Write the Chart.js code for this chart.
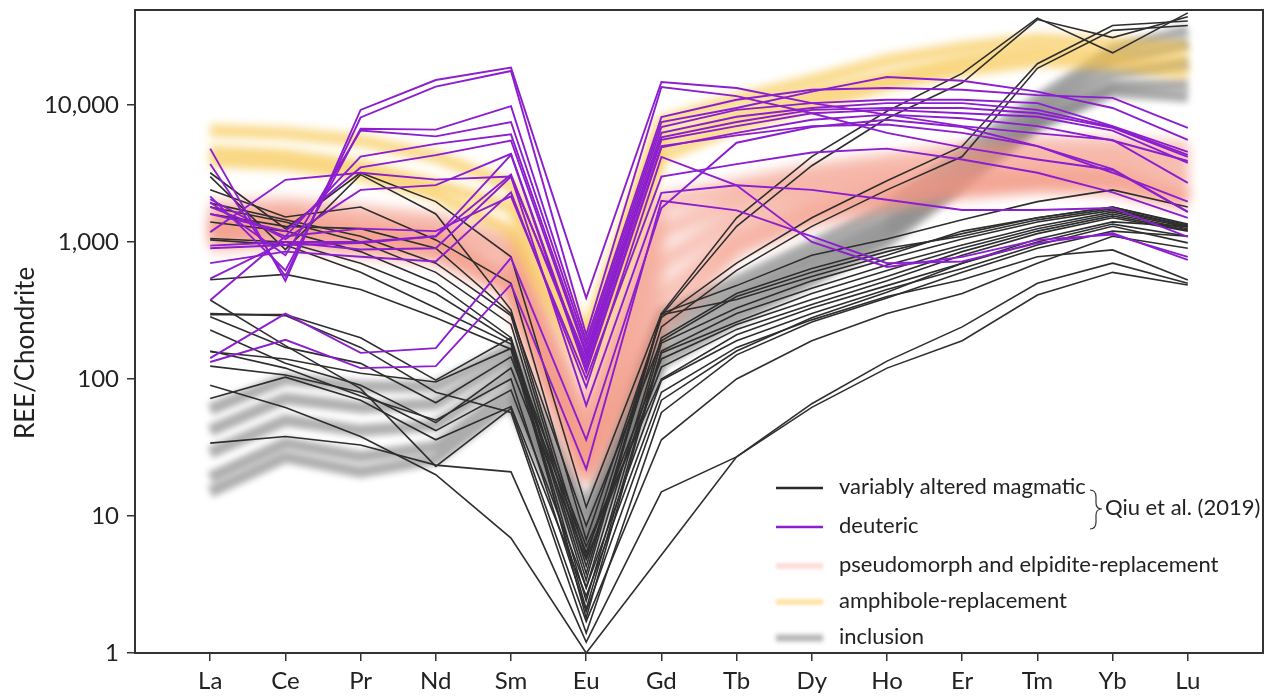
<!DOCTYPE html>
<html>
<head>
<meta charset="utf-8">
<script src="https://cdn.jsdelivr.net/npm/chart.js@4.4.0/dist/chart.umd.min.js"></script>
<style>
  html, body { margin: 0; background: #fff; }
</style>
</head>
<body>
<canvas id="ree-chart" width="1273" height="700"></canvas>
<script>
const elements = ['La', 'Ce', 'Pr', 'Nd', 'Sm', 'Eu', 'Gd', 'Tb', 'Dy', 'Ho', 'Er', 'Tm', 'Yb', 'Lu'];
const yTicks = [1, 10, 100, 1000, 10000];
const legendLabels = ['variably altered magmatic', 'deuteric', 'pseudomorph and elpidite-replacement', 'amphibole-replacement', 'inclusion'];
const sourceNote = 'Qiu et al. (2019)';

// variably altered magmatic (black)
const magmatic = [
  [3200, 1250, 3200, 1970, 780, 11.6, 300, 1500, 4200, 9000, 17000, 43000, 24000, 47000],
  [3000, 880, 3100, 1600, 320, 5.0, 290, 1300, 3600, 8000, 14500, 42000, 31000, 44000],
  [2400, 1520, 1800, 1035, 500, 6.7, 280, 700, 1500, 2800, 5000, 20000, 38000, 41000],
  [1920, 1450, 1100, 700, 290, 4.3, 240, 620, 1300, 2400, 4200, 18500, 35000, 38000],
  [1800, 1400, 1000, 600, 250, 3.8, 300, 480, 800, 1050, 1450, 1970, 2400, 1800],
  [1400, 1200, 850, 500, 200, 3.4, 295, 380, 560, 800, 1200, 1500, 1800, 1330],
  [1060, 1000, 700, 420, 190, 3.0, 200, 420, 640, 900, 1100, 1450, 1750, 1300],
  [1035, 950, 600, 330, 180, 2.4, 183, 330, 520, 750, 1050, 1400, 1700, 1300],
  [530, 580, 450, 280, 165, 2.1, 160, 300, 460, 680, 950, 1300, 1650, 1280],
  [295, 295, 200, 98, 200, 1.8, 155, 260, 420, 620, 900, 1250, 1600, 1250],
  [285, 170, 130, 67, 145, 5.4, 140, 250, 380, 560, 850, 1200, 1550, 1220],
  [228, 130, 90, 48, 120, 4.8, 122, 230, 350, 520, 800, 1150, 1500, 1200],
  [158, 140, 110, 95, 167, 6.0, 100, 210, 330, 480, 700, 1000, 1350, 1100],
  [124, 107, 80, 42, 83, 3.0, 98, 190, 300, 450, 640, 950, 1300, 985],
  [72, 103, 70, 36, 63, 2.6, 80, 170, 270, 400, 530, 780, 875, 528],
  [34, 38, 33, 23.5, 21, 1.2, 15, 27, 62, 120, 190, 410, 600, 485],
  [90, 62, 38, 20, 6.9, 1.0, 5.2, 27, 66, 135, 240, 500, 700, 500],
  [377, 175, 85, 23, 61, 1.7, 36, 100, 190, 300, 420, 700, 1100, 900],
  [300, 290, 170, 80, 57, 1.4, 57, 150, 260, 390, 600, 900, 1200, 1100],
  [160, 120, 75, 50, 100, 2.0, 70, 160, 280, 430, 700, 1050, 1400, 1300],
  [1600, 1300, 1250, 900, 300, 8.5, 190, 400, 600, 850, 1150, 1500, 1800, 1350]
];

// deuteric (purple)
const deuteric = [
  [4800, 520, 9200, 15200, 18700, 390, 14700, 13300, 10300, 8500, 7000, 6200, 5560, 2700],
  [3700, 560, 8100, 13600, 17700, 210, 13500, 11600, 8700, 6250, 4900, 4000, 3350, 1656],
  [2150, 620, 6700, 6600, 9800, 190, 8170, 10900, 12900, 13300, 12900, 11800, 11250, 6800],
  [1950, 800, 6500, 5900, 7500, 175, 7500, 9500, 12500, 16000, 15000, 12500, 9500, 5560],
  [1800, 1100, 4200, 5200, 6100, 160, 6900, 9200, 10300, 10900, 10900, 10300, 7000, 4540],
  [1600, 1200, 3500, 4300, 5500, 150, 6250, 8200, 9500, 10300, 10300, 9200, 6900, 4320],
  [1180, 2840, 3200, 2850, 3000, 140, 5800, 7500, 9200, 9500, 9500, 8700, 6800, 4170],
  [940, 1000, 1000, 1100, 3100, 130, 5560, 7000, 8700, 9200, 8700, 8200, 6500, 3780],
  [900, 950, 980, 1100, 4330, 112, 4900, 6250, 7800, 8500, 8000, 7000, 5500, 3900],
  [700, 850, 780, 720, 2300, 87, 4170, 2590, 1000, 657, 778, 1035, 1130, 778],
  [540, 1000, 880, 900, 3000, 64, 2280, 2590, 2400, 2030, 1710, 1710, 1770, 1087],
  [142, 300, 155, 168, 765, 36, 1770, 5300, 6900, 7800, 6900, 5000, 3200, 1970],
  [133, 193, 120, 124, 490, 22, 2000, 1700, 1100, 700, 720, 980, 1160, 739],
  [375, 1100, 1250, 1200, 2150, 100, 3000, 3700, 4500, 4800, 4000, 3200, 2300, 1497],
  [2050, 1050, 2400, 2600, 4400, 120, 5000, 6000, 7000, 7200, 6250, 5000, 3400, 1656]
];

// pseudomorph and elpidite-replacement (pink band)
const pseudomorph = [
  [1700, 1800, 1600, 1400, 1000, 50, 1900, 2500, 3200, 3800, 4500, 5000, 5000, 4600],
  [1400, 1500, 1300, 1150, 800, 35, 1200, 2000, 2600, 3100, 3600, 4000, 4000, 3600],
  [1150, 1250, 1050, 950, 600, 25, 700, 1500, 2100, 2600, 3000, 3300, 3300, 2800],
  [1000, 1050, 900, 800, 450, 20, 400, 1100, 1700, 2200, 2600, 2800, 2800, 2200],
  [1250, 1350, 1150, 1000, 500, 22, 250, 900, 1500, 2000, 2400, 2700, 2600, 2000]
];

// amphibole-replacement (yellow band)
const amphibole = [
  [6500, 6200, 5500, 4200, 2600, 200, 7500, 11000, 15000, 21000, 26000, 30000, 28000, 26000],
  [4600, 4300, 3600, 2600, 1800, 150, 5500, 8500, 12000, 16000, 21000, 25000, 23000, 21000],
  [3900, 3700, 3100, 2200, 1200, 110, 4200, 7000, 10000, 14000, 18000, 21000, 20000, 17000]
];

// inclusion (grey band)
const inclusion = [
  [60, 100, 88, 88, 170, 11, 300, 520, 950, 1800, 4500, 11000, 25000, 35000],
  [42, 72, 62, 66, 140, 8, 250, 440, 800, 1500, 3800, 9500, 21000, 28000],
  [29, 50, 42, 46, 110, 6.5, 200, 380, 700, 1300, 3300, 8500, 17000, 20000],
  [19, 34, 27, 32, 85, 5.5, 160, 320, 600, 1150, 2900, 7500, 14000, 14000],
  [15, 27, 21, 26, 68, 5, 130, 270, 520, 1000, 2600, 7000, 12500, 11500]
];

const FONT = 'Lato, "Open Sans", sans-serif';
const TEXT = '#222';

function series(rows, style) {
  return rows.map(r => Object.assign({}, style, {
    data: r.map((v, i) => ({ x: i, y: v }))
  }));
}

const datasets = [].concat(
  series(inclusion, { borderColor: 'rgba(110,110,110,0.55)', borderWidth: 12, blur: 3, order: 4, borderJoinStyle: 'round' }),
  series(pseudomorph, { borderColor: 'rgba(242,150,130,0.55)', borderWidth: 20, blur: 6, order: 3, borderJoinStyle: 'round' }),
  series(amphibole, { borderColor: 'rgba(247,196,70,0.62)', borderWidth: 13, blur: 4, order: 2, borderJoinStyle: 'round' }),
  series(magmatic, { borderColor: '#2e2e2e', borderWidth: 1.6, order: 1 }),
  series(deuteric, { borderColor: '#8c1ecf', borderWidth: 1.9, order: 0 })
);

const blurBands = {
  id: 'blurBands',
  beforeDatasetDraw(chart, args) {
    const ds = chart.data.datasets[args.index];
    if (ds.blur) { chart.ctx.save(); chart.ctx.filter = 'blur(' + ds.blur + 'px)'; }
  },
  afterDatasetDraw(chart, args) {
    const ds = chart.data.datasets[args.index];
    if (ds.blur) chart.ctx.restore();
  }
};

const frameAndLegend = {
  id: 'frameAndLegend',
  afterDraw(chart) {
    const ctx = chart.ctx;
    const a = chart.chartArea;
    ctx.save();
    // frame
    ctx.strokeStyle = '#333';
    ctx.lineWidth = 2;
    ctx.strokeRect(a.left, a.top, a.right - a.left, a.bottom - a.top);

    // y title
    ctx.save();
    ctx.translate(26, 353);
    ctx.rotate(-Math.PI / 2);
    ctx.fillStyle = TEXT;
    ctx.font = '26px ' + FONT;
    ctx.textAlign = 'center';
    ctx.textBaseline = 'middle';
    ctx.fillText('REE/Chondrite', 0, 0);
    ctx.restore();

    // legend
    const rows = [488, 527, 566, 602, 638];
    const samples = [
      { color: '#2a2a2a', width: 2.5, blur: 0 },
      { color: '#8c1ecf', width: 2.5, blur: 0 },
      { color: 'rgba(250,185,180,0.5)', width: 6, blur: 1.5 },
      { color: 'rgba(255,210,110,0.6)', width: 6, blur: 1.5 },
      { color: 'rgba(120,120,120,0.55)', width: 7, blur: 2 }
    ];
    rows.forEach((y, i) => {
      ctx.save();
      if (samples[i].blur) ctx.filter = 'blur(' + samples[i].blur + 'px)';
      ctx.strokeStyle = samples[i].color;
      ctx.lineWidth = samples[i].width;
      ctx.beginPath();
      ctx.moveTo(776, y);
      ctx.lineTo(823, y);
      ctx.stroke();
      ctx.restore();
      ctx.fillStyle = TEXT;
      ctx.font = '22px ' + FONT;
      ctx.textAlign = 'left';
      ctx.textBaseline = 'middle';
      ctx.fillText(legendLabels[i], 839, y - 1);
    });

    // brace + citation
    ctx.strokeStyle = '#333';
    ctx.lineWidth = 1.2;
    ctx.beginPath();
    ctx.moveTo(1090, 490);
    ctx.quadraticCurveTo(1096, 490, 1096, 497);
    ctx.lineTo(1096, 503);
    ctx.quadraticCurveTo(1096, 509, 1102, 509);
    ctx.quadraticCurveTo(1096, 509, 1096, 515);
    ctx.lineTo(1096, 522);
    ctx.quadraticCurveTo(1096, 529, 1090, 529);
    ctx.stroke();
    ctx.fillStyle = TEXT;
    ctx.font = '22px ' + FONT;
    ctx.textBaseline = 'middle';
    ctx.fillText(sourceNote, 1105, 508);
    ctx.restore();
  }
};

const reeCtx = document.getElementById('ree-chart').getContext('2d');
const reeChart = new Chart(reeCtx, {
  type: 'line',
  data: { datasets: datasets },
  plugins: [blurBands, frameAndLegend],
  options: {
    responsive: false,
    devicePixelRatio: 1,
    animation: false,
    layout: { padding: { top: 10, right: 10, left: 0, bottom: 0 } },
    elements: {
      point: { radius: 0 },
      line: { tension: 0, fill: false, borderCapStyle: 'butt' }
    },
    scales: {
      x: {
        type: 'linear',
        min: -1,
        max: 14,
        afterBuildTicks: scale => { scale.ticks = elements.map((_, i) => ({ value: i })); },
        afterFit: scale => { scale.height = 47; scale.paddingLeft = 0; scale.paddingRight = 0; },
        border: { display: false },
        grid: { drawOnChartArea: false, drawTicks: true, tickLength: 8, color: '#333', lineWidth: 1.5 },
        ticks: {
          autoSkip: false,
          maxRotation: 0,
          padding: 6,
          color: TEXT,
          font: { family: FONT, size: 24 },
          callback: v => elements[v] || ''
        }
      },
      y: {
        type: 'logarithmic',
        min: 1,
        max: 49300,
        afterBuildTicks: scale => { scale.ticks = yTicks.map(v => ({ value: v })); },
        afterFit: scale => { scale.width = 135; scale.paddingTop = 0; scale.paddingBottom = 0; },
        border: { display: false },
        grid: { drawOnChartArea: false, drawTicks: true, tickLength: 8, color: '#333', lineWidth: 1.5 },
        ticks: {
          padding: 8,
          color: TEXT,
          font: { family: FONT, size: 24 },
          callback: v => Number(v).toLocaleString('en-US')
        }
      }
    },
    plugins: {
      legend: { display: false },
      tooltip: { enabled: false }
    }
  }
});
</script>
</body>
</html>
